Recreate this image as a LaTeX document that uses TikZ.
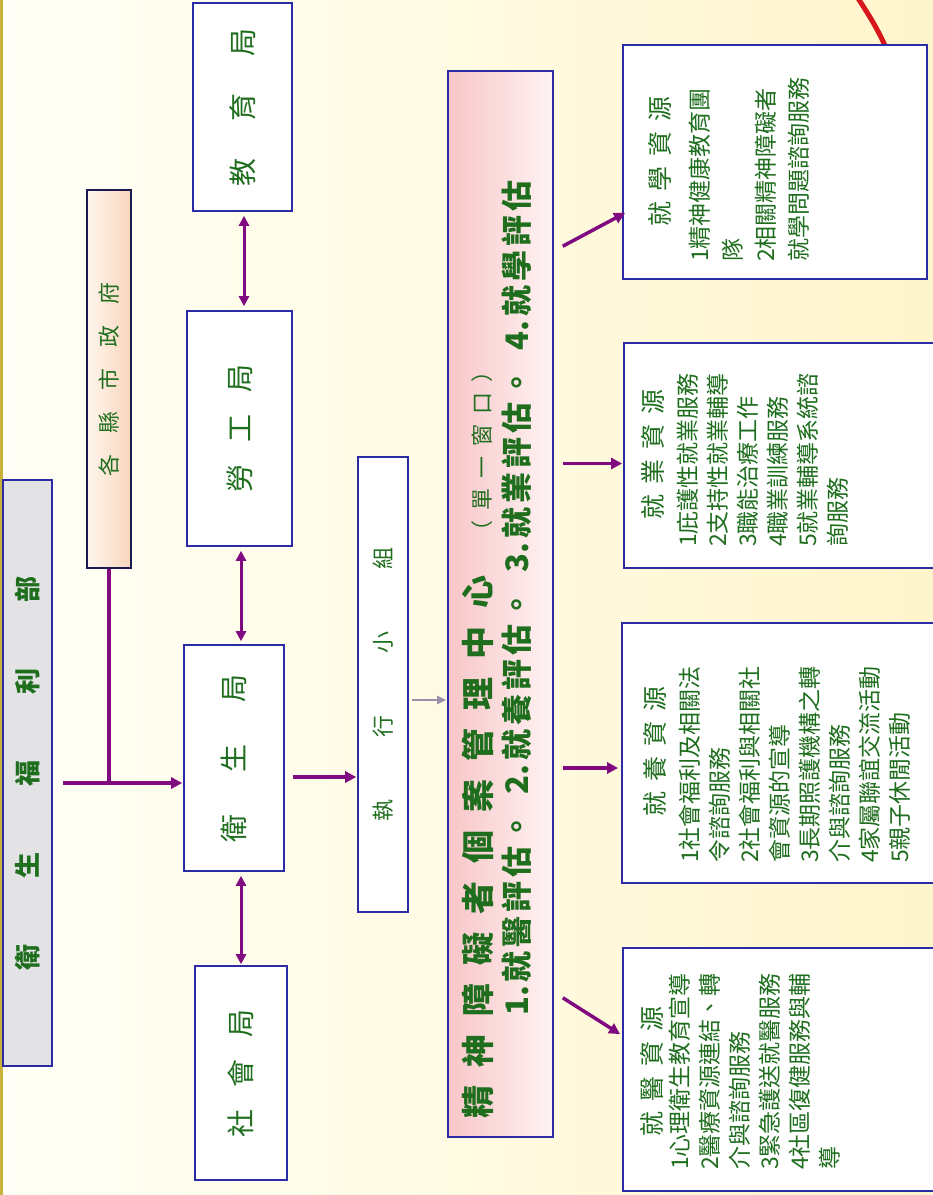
\documentclass[tikz,border=0pt]{standalone}
\usepackage{fontspec}
\setmainfont{Noto Sans CJK TC}
\usepackage{graphicx}
\usetikzlibrary{arrows.meta, calc}
\definecolor{BoxBlue}{HTML}{2B2BA6}
\definecolor{GovLine}{HTML}{1A1A50}
\definecolor{TextGreen}{HTML}{1E6E1E}
\definecolor{FlowPurple}{HTML}{800A80}
\definecolor{FlowGrey}{HTML}{9C8FA8}
\definecolor{CtrPink}{HTML}{F8C6C8}
\definecolor{CtrPale}{HTML}{FFF3F3}
\definecolor{GovPeach}{HTML}{F9D6BC}
\definecolor{GovPale}{HTML}{FFF6EE}
\definecolor{MinGrey}{HTML}{E3E3E6}
\definecolor{BgCream}{HTML}{FFFFF7}
\definecolor{BgYellow}{HTML}{FFF5CC}
\definecolor{EdgeOlive}{HTML}{C9B23A}
\definecolor{ArcRed}{HTML}{D7161C}
% letter-spaced text: \spaced{gap}{chars}
\makeatletter
\newcommand{\spaced}[2]{\def\sp@gap{\hspace{#1}}\sp@first#2\sp@end}
\def\sp@first#1{#1\sp@next}
\def\sp@next#1{\ifx#1\sp@end\else\sp@gap#1\expandafter\sp@next\fi}
\makeatother
\newcommand{\headtxt}[2]{{\fontsize{25}{30}\selectfont\hspace*{#1}\spaced{10pt}{#2}}}
\tikzset{
  unit/.style={draw=BoxBlue, line width=1.6pt, fill=white, inner sep=0pt, text=TextGreen},
  resbox/.style={unit, line width=1.8pt},
  restxt/.style={rotate=90, anchor=north west, align=left, inner sep=0pt,
    text=TextGreen, font=\fontsize{23}{30}\selectfont},
  ctrtxt/.style={rotate=90, anchor=west, inner sep=0pt, text=TextGreen},
  flow/.style={-{Triangle[length=11pt, width=11pt]}, line width=3.5pt, draw=FlowPurple},
  dflow/.style={{Triangle[length=10pt, width=10pt]}-{Triangle[length=10pt, width=10pt]},
    line width=3pt, draw=FlowPurple},
  flowthin/.style={-{Triangle[length=9pt, width=8pt]}, line width=2pt, draw=FlowGrey},
  link/.style={line width=4pt, draw=FlowPurple},
}

\begin{document}
\begin{tikzpicture}[x=1pt, y=-1pt]
  \clip (0,0) rectangle (933,1195);
  % background
  \shade[left color=BgCream, right color=BgYellow] (0,0) rectangle (933,1195);
  \fill[EdgeOlive] (0,0) rectangle (3,1195);
  \draw[ArcRed, line width=5pt] (856,-5) .. controls (868,14) and (879,30) .. (889,55);

  % ministry and county
  \node[unit, fill=MinGrey, minimum width=49pt, minimum height=586pt] (mohw) at (27.5,773)
    {\rotatebox{90}{\fontsize{26}{30}\selectfont\bfseries\spaced{66pt}{衛生福利部}}};
  \node[unit, draw=GovLine, left color=GovPale, right color=GovPeach,
    minimum width=44pt, minimum height=378pt] (gov) at (109,379)
    {\rotatebox{90}{\fontsize{22}{26}\selectfont\spaced{21pt}{各縣市政府}}};

  % bureaus
  \node[unit, minimum width=99pt, minimum height=208pt] (eb) at (242.5,107)
    {\rotatebox{90}{\fontsize{28}{30}\selectfont\spaced{37pt}{教育局}}};
  \node[unit, minimum width=105pt, minimum height=235pt] (lb) at (239.5,428.5)
    {\rotatebox{90}{\fontsize{28}{30}\selectfont\spaced{22pt}{勞工局}}};
  \node[unit, minimum width=100pt, minimum height=226pt] (hb) at (234,758)
    {\rotatebox{90}{\fontsize{28}{30}\selectfont\spaced{42pt}{衛生局}}};
  \node[unit, minimum width=92pt, minimum height=214pt] (sb) at (241,1073)
    {\rotatebox{90}{\fontsize{28}{30}\selectfont\spaced{22pt}{社會局}}};
  \node[unit, minimum width=50pt, minimum height=455pt] (team) at (383,684.5)
    {\rotatebox{90}{\fontsize{22}{26}\selectfont\spaced{62pt}{執行小組}}};

  % case management centre
  \node[unit, left color=CtrPink, right color=CtrPale,
    minimum width=105pt, minimum height=1066pt] (ctr) at (500.5,604) {};
  \node[ctrtxt, font=\fontsize{33}{36}\selectfont\bfseries] (ctrname) at (478,1119)
    {\spaced{18pt}{精神障礙者個案管理中心}\hspace{33pt}{\fontsize{22}{26}\selectfont\mdseries\spaced{10pt}{（單一窗口）}}};
  \node[ctrtxt, font=\fontsize{31}{36}\selectfont\bfseries] (ctrsteps) at (517,1016)
    {1.\hspace{4pt}\spaced{4pt}{就醫評估}\hspace{4pt}。\hspace{17pt}%
     2.\hspace{4pt}\spaced{4pt}{就養評估}\hspace{4pt}。\hspace{17pt}%
     3.\hspace{4pt}\spaced{4pt}{就業評估}\hspace{4pt}。\hspace{17pt}%
     4.\hspace{4pt}\spaced{4pt}{就學評估}};

  % resource boxes
  \node[resbox, minimum width=304pt, minimum height=234pt] (rs) at (775,162) {};
  \node[restxt, font=\fontsize{23}{33}\selectfont] (rstxt) at (648,262)
    {\headtxt{35pt}{就學資源}\\[6pt] 1精神健康教育團\\ 隊\\ 2相關精神障礙者\\ 就學問題諮詢服務};
  \node[resbox, minimum width=321pt, minimum height=225pt] (rj) at (784.5,455.5) {};
  \node[restxt] (rjtxt) at (641,547)
    {\headtxt{27pt}{就業資源}\\[4pt] 1庇護性就業服務\\ 2支持性就業輔導\\ 3職能治療工作\\
     4職業訓練服務\\ 5就業輔導系統諮\\ 詢服務};
  \node[resbox, minimum width=323pt, minimum height=260pt] (ry) at (783.5,753) {};
  \node[restxt] (rytxt) at (643,863)
    {\headtxt{46pt}{就養資源}\\[4pt] 1社會福利及相關法\\ 令諮詢服務\\ 2社會福利與相關社\\
     會資源的宣導\\ 3長期照護機構之轉\\ 介與諮詢服務\\ 4家屬聯誼交流活動\\ 5親子休閒活動};
  \node[resbox, minimum width=322pt, minimum height=243pt] (rm) at (784,1069.5) {};
  \node[restxt] (rmtxt) at (640,1170)
    {\headtxt{33pt}{就醫資源}\\[-3pt] 1心理衛生教育宣導\\ 2醫療資源連結、轉\\ 介與諮詢服務\\
     3緊急護送就醫服務\\ 4社區復健服務與輔\\ 導};

  % connectors
  \coordinate (gjoin) at ($(gov.south |- hb.west)+(0,23)$);
  \draw[link] (gov.south) -- (gjoin);
  \draw[flow] ($(mohw.east)+(10,10)$) -- ($(hb.west)+(-1,25)$);
  \draw[dflow] ($(eb.south)+(1.5,4)$) -- ($(eb.south |- lb.north)+(1.5,-4)$);
  \draw[dflow] ($(lb.south)+(1.5,4)$) -- ($(lb.south |- hb.north)+(1.5,-3)$);
  \draw[dflow] ($(sb.north |- hb.south)+(0,4)$) -- ($(sb.north)+(0,-1)$);
  \draw[flow] ($(hb.east)+(8,19)$) -- ($(team.west)+(-1,92.5)$);
  \draw[flowthin] ($(team.east)+(3,15.5)$) -- ($(ctr.west)+(-1,96)$);
  \draw[flow] ($(ctr.north east)+(9,176)$) -- ($(rs.south west)+(3,-67)$);
  \draw[flow] ($(ctr.east |- rj.west)+(9,8)$) -- ($(rj.west)+(-1,8)$);
  \draw[flow] ($(ctr.east |- ry.west)+(9,15)$) -- ($(ry.west)+(-3,15)$);
  \draw[flow] ($(ctr.south east)+(9,-140)$) -- ($(rm.north west)+(-2,87)$);
\end{tikzpicture}
\end{document}
